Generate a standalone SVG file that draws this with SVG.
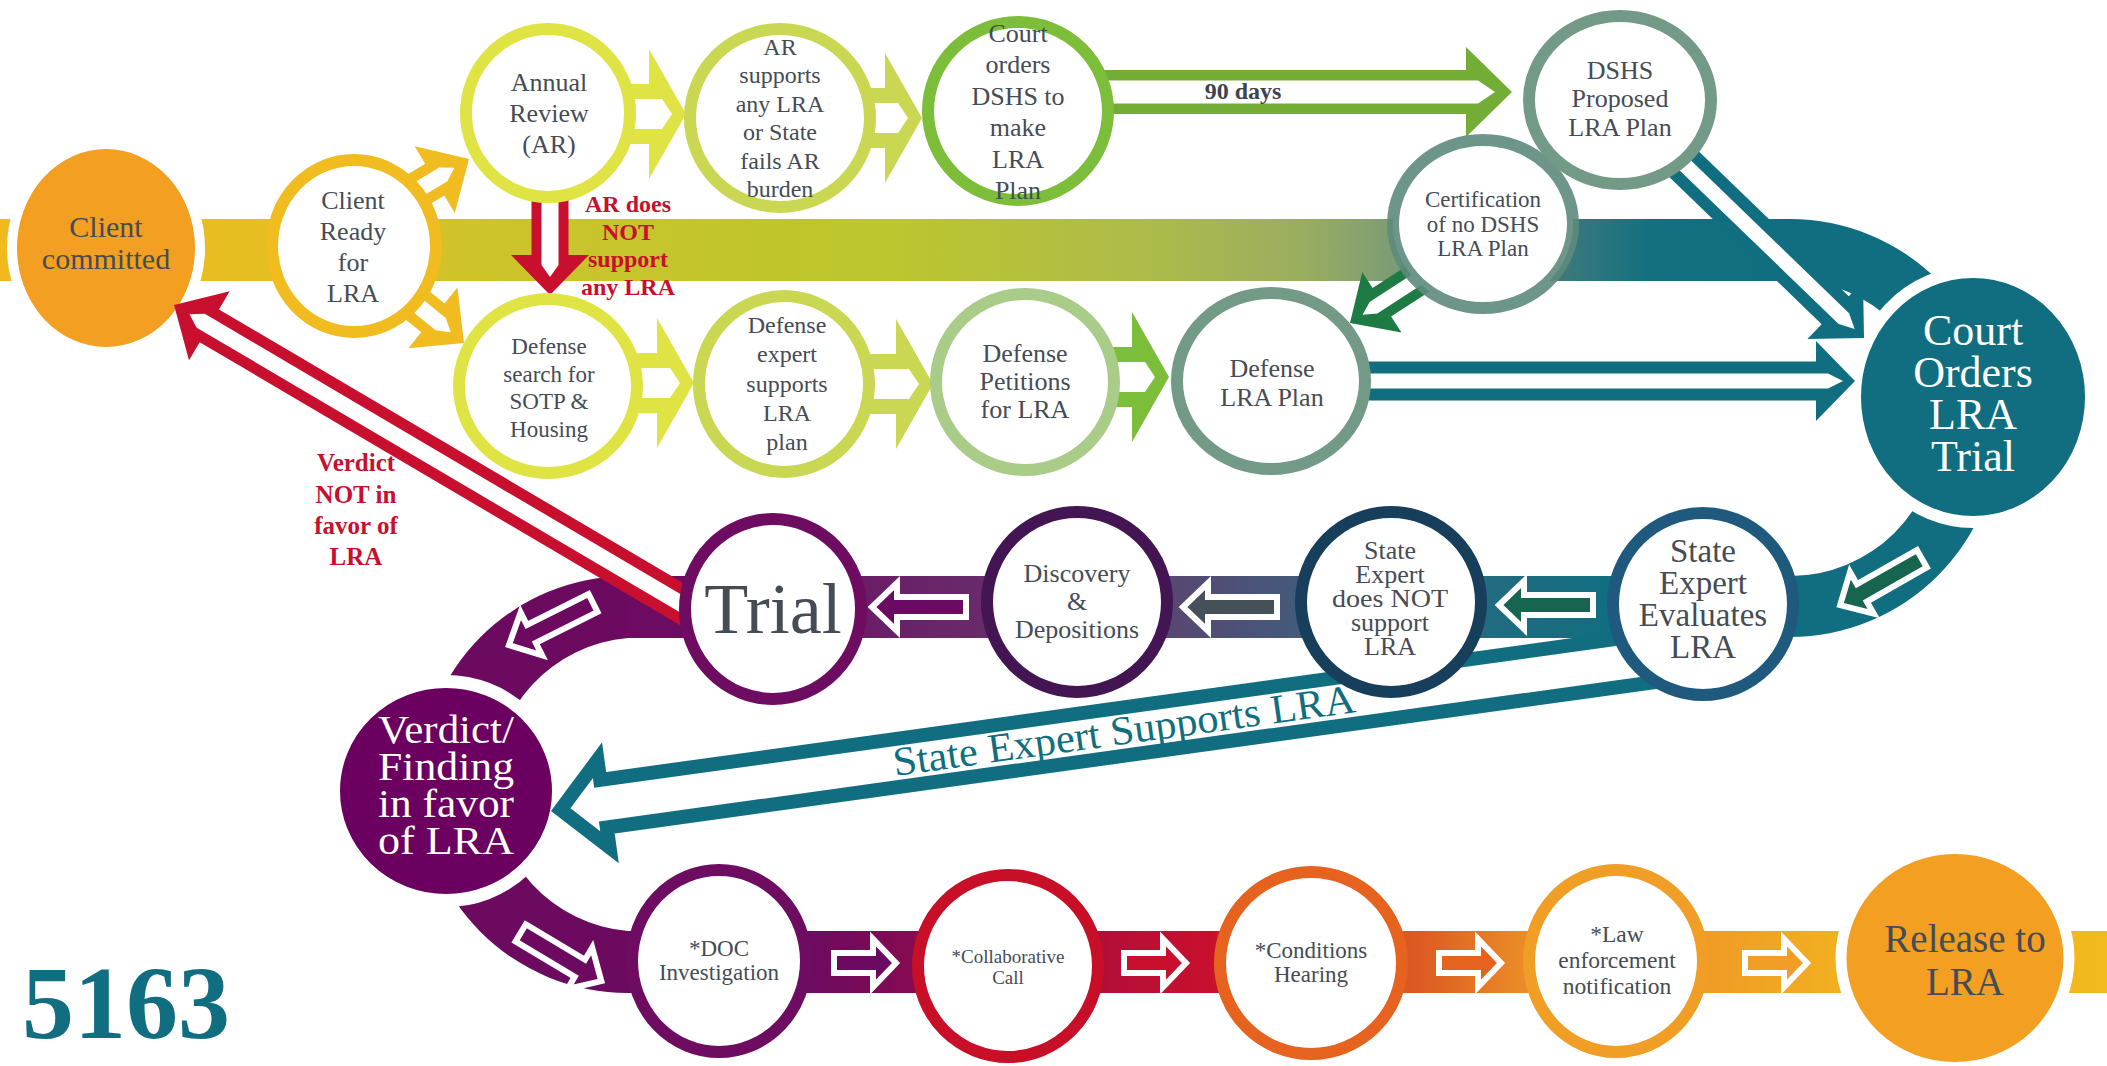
<svg xmlns="http://www.w3.org/2000/svg" xmlns:xlink="http://www.w3.org/1999/xlink" width="2107" height="1066" viewBox="0 0 2107 1066">
<style>
.n{font-family:'Liberation Serif','Times New Roman',serif;fill:#454C55;text-anchor:middle}
.w{font-family:'Liberation Serif','Times New Roman',serif;fill:#ffffff}
.r{font-family:'Liberation Serif','Times New Roman',serif;font-weight:bold;fill:#C8102E;text-anchor:middle}
.ring{fill:#ffffff;stroke-width:12}
.inner{fill:#ffffff}
</style>
<defs>
<linearGradient id="gTop" gradientUnits="userSpaceOnUse" x1="0" y1="0" x2="1790" y2="0">
<stop offset="0" stop-color="#F1B91D"/><stop offset="0.14" stop-color="#E6BE22"/><stop offset="0.28" stop-color="#CBC42A"/><stop offset="0.5" stop-color="#BCC62F"/><stop offset="0.64" stop-color="#AEBB4A"/><stop offset="0.73" stop-color="#99AD60"/><stop offset="0.79" stop-color="#76987A"/><stop offset="0.87" stop-color="#3F7A7C"/><stop offset="0.92" stop-color="#14707F"/><stop offset="1" stop-color="#106E80"/>
</linearGradient>
<linearGradient id="gMid" gradientUnits="userSpaceOnUse" x1="628" y1="0" x2="1790" y2="0">
<stop offset="0.06" stop-color="#6D0B62"/><stop offset="0.3" stop-color="#682A6A"/><stop offset="0.47" stop-color="#564873"/><stop offset="0.57" stop-color="#45597A"/><stop offset="0.73" stop-color="#246B80"/><stop offset="0.84" stop-color="#116E80"/><stop offset="1" stop-color="#106E80"/>
</linearGradient>
<linearGradient id="gBot" gradientUnits="userSpaceOnUse" x1="628" y1="0" x2="2107" y2="0">
<stop offset="0" stop-color="#6C0A60"/><stop offset="0.13" stop-color="#6E0A5F"/><stop offset="0.19" stop-color="#850B52"/><stop offset="0.326" stop-color="#B50E37"/><stop offset="0.394" stop-color="#C8102E"/><stop offset="0.44" stop-color="#D43A26"/><stop offset="0.536" stop-color="#DD5B22"/><stop offset="0.604" stop-color="#EA8B27"/><stop offset="0.74" stop-color="#F09E25"/><stop offset="0.82" stop-color="#F2B020"/><stop offset="1" stop-color="#F2BA1E"/>
</linearGradient>
<path id="sa" d="M47,0 L22,-24 L22,-10 L-47,-10 L-47,10 L22,10 L22,24 Z" stroke="#ffffff" stroke-width="6"/>
<path id="sb" d="M31,0 L8,-24 L8,-10 L-31,-10 L-31,10 L8,10 L8,24 Z" stroke="#ffffff" stroke-width="6"/>
</defs>

<g id="bands">
<rect x="0" y="219" width="1790" height="62" fill="url(#gTop)"/>
<path d="M1790,219 A209,209 0 0 1 1790,637 L1790,576 A148,148 0 0 0 1790,280 Z" fill="#106E80"/>
<rect x="628" y="576" width="1162" height="62" fill="url(#gMid)"/>
<path d="M628,576 A208,208 0 0 0 628,993 L628,931 A147,147 0 0 1 628,638 Z" fill="#6C0A60"/>
<rect x="628" y="931" width="1479" height="62" fill="url(#gBot)"/>
</g>

<g id="client-committed">
<ellipse cx="106" cy="248" rx="94" ry="104" fill="#F29F22" stroke="#ffffff" stroke-width="10"/>
<text class="n" font-size="30"><tspan x="106" y="237">Client</tspan><tspan x="106" y="269">committed</tspan></text>
</g>
<g id="court-orders-lra-trial">
<ellipse cx="1973" cy="397" rx="118" ry="125" fill="#106E80" stroke="#ffffff" stroke-width="12"/>
<text class="w" font-size="44" text-anchor="middle"><tspan x="1973" y="345">Court</tspan><tspan x="1973" y="387">Orders</tspan><tspan x="1973" y="429">LRA</tspan><tspan x="1973" y="471">Trial</tspan></text>
</g>
<g id="verdict-finding">
<ellipse cx="446" cy="791" rx="112.5" ry="109.5" fill="#6B0061" stroke="#ffffff" stroke-width="13"/>
<text class="w" font-size="40"><tspan x="378" y="743" textLength="136" lengthAdjust="spacingAndGlyphs">Verdict/</tspan><tspan x="378" y="780" textLength="136" lengthAdjust="spacingAndGlyphs">Finding</tspan><tspan x="378" y="817" textLength="136" lengthAdjust="spacingAndGlyphs">in favor</tspan><tspan x="378" y="854" textLength="136" lengthAdjust="spacingAndGlyphs">of LRA</tspan></text>
</g>
<g id="release-to-lra">
<ellipse cx="1955" cy="958" rx="114" ry="109.5" fill="#F29F22" stroke="#ffffff" stroke-width="11"/>
<text class="n" font-size="39"><tspan x="1965" y="952">Release to</tspan><tspan x="1965" y="995">LRA</tspan></text>
</g>

<g id="connectors">
<polygon points="560,84 649,84 649,49 686,114 649,179 649,144 560,144" fill="#DFE444"/>
<polygon class="inner" points="560,99 662,99 672,114 662,129 560,129"/>
<polygon points="800,88 885,88 885,53 922,118 885,183 885,148 800,148" fill="#C9D752"/>
<polygon class="inner" points="800,103 898,103 908,118 898,133 800,133"/>
<polygon points="560,353 657,353 657,318 694,383 657,448 657,413 560,413" fill="#DFE444"/>
<polygon class="inner" points="560,368 670,368 680,383 670,398 560,398"/>
<polygon points="800,354 896,354 896,319 933,384 896,449 896,414 800,414" fill="#C9D752"/>
<polygon class="inner" points="800,369 909,369 919,384 909,399 800,399"/>
<polygon points="1040,347 1132,347 1132,312 1169,377 1132,442 1132,407 1040,407" fill="#7CBD3A"/>
<polygon class="inner" points="1040,362 1145,362 1155,377 1145,392 1040,392"/>
<polygon points="1090,70 1466,70 1466,47 1512,92 1466,137 1466,114 1090,114" fill="#74AD35"/>
<polygon class="inner" points="1090,80.5 1478,80.5 1495,92 1478,103.5 1090,103.5"/>
<text x="1243" y="99" font-family="'Liberation Serif','Times New Roman',serif" font-weight="bold" font-size="24" fill="#3D444C" text-anchor="middle">90 days</text>
<polygon points="1290,361.5 1816,361.5 1816,341 1855,381 1816,421 1816,400.5 1290,400.5" fill="#106E80"/>
<polygon class="inner" points="1290,373.5 1828,373.5 1843,381 1828,388.5 1290,388.5"/>
<g transform="translate(469,159) rotate(-31)" fill="#F0BC1F">
<polygon points="0,0 -40,-39 -40,-18.5 -100,-18.5 -100,18.5 -40,18.5 -40,39"/>
<polygon class="inner" points="-100,-8 -30,-8 -17,0 -30,8 -100,8"/>
</g>
<g transform="translate(464,343) rotate(39)" fill="#F0BC1F">
<polygon points="0,0 -40,-39 -40,-18.5 -100,-18.5 -100,18.5 -40,18.5 -40,39"/>
<polygon class="inner" points="-100,-8 -30,-8 -17,0 -30,8 -100,8"/>
</g>
<g transform="translate(550,295) rotate(90)" fill="#C8102E">
<polygon points="0,0 -40,-39 -40,-18.5 -145,-18.5 -145,18.5 -40,18.5 -40,39"/>
<polygon class="inner" points="-145,-8.5 -30,-8.5 -18,0 -30,8.5 -145,8.5"/>
</g>
<text class="r" font-size="24"><tspan x="628" y="212">AR does</tspan><tspan x="628" y="240">NOT</tspan><tspan x="628" y="267">support</tspan><tspan x="628" y="295">any LRA</tspan></text>
<g transform="translate(174,305) rotate(210.5)" fill="#C8102E">
<polygon points="0,0 -41,-40 -41,-19 -610,-19 -610,19 -41,19 -41,40"/>
<polygon class="inner" points="-610,-8 -31,-8 -18,0 -31,8 -610,8"/>
</g>
<text class="r" font-size="25"><tspan x="356" y="471">Verdict</tspan><tspan x="356" y="503">NOT in</tspan><tspan x="356" y="534">favor of</tspan><tspan x="356" y="565">LRA</tspan></text>
<g transform="translate(1864,338) rotate(44)" fill="#106E80">
<polygon points="0,0 -40,-40 -40,-19.5 -330,-19.5 -330,19.5 -40,19.5 -40,40"/>
<polygon class="inner" points="-330,-7.5 -28,-7.5 -13,0 -28,7.5 -330,7.5"/>
</g>
<g transform="translate(1350,323) rotate(147)" fill="#1E7B44">
<polygon points="0,0 -38,-36 -38,-17 -160,-17 -160,17 -38,17 -38,36"/>
<polygon class="inner" points="-160,-7 -28,-7 -15,0 -28,7 -160,7"/>
</g>
<polygon transform="translate(551,811) rotate(172.1)" points="-9.8,0 -53,-43.9 -53,-24 -1110,-24 -1110,24 -53,24 -53,43.9" fill="#ffffff" stroke="#106E80" stroke-width="14" stroke-linejoin="miter"/>
<text transform="translate(895,776) rotate(-7.9)" x="0" y="0" font-family="'Liberation Serif','Times New Roman',serif" font-size="41" fill="#106E80" textLength="466" lengthAdjust="spacingAndGlyphs">State Expert Supports LRA</text>
<use xlink:href="#sa" fill="#17654F" transform="translate(1881,582) rotate(150.4)"/>
<use xlink:href="#sa" fill="#17654F" transform="translate(1546,605) rotate(180)"/>
<use xlink:href="#sa" fill="#465058" transform="translate(1230,607) rotate(180)"/>
<use xlink:href="#sa" fill="#6B0A62" transform="translate(919,607) rotate(180)"/>
<use xlink:href="#sa" fill="#6C0A60" transform="translate(551,624) rotate(153.4)"/>
<use xlink:href="#sa" fill="#6C0A60" transform="translate(561,957) rotate(30.9)"/>
<use xlink:href="#sb" fill="#6C0A62" transform="translate(865,963)"/>
<use xlink:href="#sb" fill="#C8102E" transform="translate(1155,963)"/>
<use xlink:href="#sb" fill="#E5621F" transform="translate(1470,963)"/>
<use xlink:href="#sb" fill="#F09E25" transform="translate(1776,963)"/>
</g>

<g id="client-ready">
<ellipse class="ring" cx="354" cy="246" rx="82" ry="86" stroke="#F0BC1F"/>
<text class="n" font-size="26"><tspan x="353" y="209">Client</tspan><tspan x="353" y="240">Ready</tspan><tspan x="353" y="271">for</tspan><tspan x="353" y="302">LRA</tspan></text>
</g>
<g id="annual-review">
<ellipse class="ring" cx="548" cy="113" rx="82" ry="84" stroke="#DFE444"/>
<text class="n" font-size="26"><tspan x="549" y="91">Annual</tspan><tspan x="549" y="122">Review</tspan><tspan x="549" y="153">(AR)</tspan></text>
</g>
<g id="ar-supports">
<ellipse class="ring" cx="780" cy="118" rx="90" ry="89" stroke="#C9D752"/>
<text class="n" font-size="24"><tspan x="780" y="55">AR</tspan><tspan x="780" y="83">supports</tspan><tspan x="780" y="112">any LRA</tspan><tspan x="780" y="140">or State</tspan><tspan x="780" y="169">fails AR</tspan><tspan x="780" y="197">burden</tspan></text>
</g>
<g id="court-orders-dshs">
<ellipse class="ring" cx="1018" cy="111" rx="90" ry="89" stroke="#7CBD3A"/>
<text class="n" font-size="26"><tspan x="1018" y="42">Court</tspan><tspan x="1018" y="73">orders</tspan><tspan x="1018" y="105">DSHS to</tspan><tspan x="1018" y="136">make</tspan><tspan x="1018" y="168">LRA</tspan><tspan x="1018" y="199">Plan</tspan></text>
</g>
<g id="certification">
<ellipse class="ring" cx="1483" cy="224" rx="90" ry="84" stroke="#5E8A7C" stroke-opacity="0.9"/>
<text class="n" font-size="23"><tspan x="1483" y="207">Certification</tspan><tspan x="1483" y="232">of no DSHS</tspan><tspan x="1483" y="256">LRA Plan</tspan></text>
</g>
<g id="dshs-proposed">
<ellipse class="ring" cx="1620" cy="100" rx="91" ry="84" stroke="#729A86"/>
<text class="n" font-size="26"><tspan x="1620" y="79">DSHS</tspan><tspan x="1620" y="107">Proposed</tspan><tspan x="1620" y="136">LRA Plan</tspan></text>
</g>
<g id="defense-search">
<ellipse class="ring" cx="548" cy="386" rx="89" ry="87" stroke="#DFE444"/>
<text class="n" font-size="23"><tspan x="549" y="354">Defense</tspan><tspan x="549" y="382">search for</tspan><tspan x="549" y="409">SOTP &amp;</tspan><tspan x="549" y="437">Housing</tspan></text>
</g>
<g id="defense-expert">
<ellipse class="ring" cx="784" cy="384" rx="85" ry="88" stroke="#C9D752"/>
<text class="n" font-size="24"><tspan x="787" y="333">Defense</tspan><tspan x="787" y="362">expert</tspan><tspan x="787" y="392">supports</tspan><tspan x="787" y="421">LRA</tspan><tspan x="787" y="450">plan</tspan></text>
</g>
<g id="defense-petitions">
<ellipse class="ring" cx="1025" cy="382" rx="89" ry="88" stroke="#A9CD89"/>
<text class="n" font-size="26"><tspan x="1025" y="362">Defense</tspan><tspan x="1025" y="390">Petitions</tspan><tspan x="1025" y="418">for LRA</tspan></text>
</g>
<g id="defense-lra-plan">
<ellipse class="ring" cx="1271" cy="381" rx="94" ry="88" stroke="#729A86"/>
<text class="n" font-size="26"><tspan x="1272" y="377">Defense</tspan><tspan x="1272" y="406">LRA Plan</tspan></text>
</g>
<g id="state-expert-evaluates">
<ellipse class="ring" cx="1703" cy="604" rx="90" ry="91" stroke="#1F5A7E"/>
<text class="n" font-size="33"><tspan x="1703" y="562">State</tspan><tspan x="1703" y="594">Expert</tspan><tspan x="1703" y="626">Evaluates</tspan><tspan x="1703" y="658">LRA</tspan></text>
</g>
<g id="state-expert-not">
<ellipse class="ring" cx="1391" cy="602" rx="90" ry="90" stroke="#173F5C"/>
<text class="n" font-size="26"><tspan x="1390" y="559">State</tspan><tspan x="1390" y="583">Expert</tspan><tspan x="1390" y="607" textLength="116" lengthAdjust="spacingAndGlyphs">does NOT</tspan><tspan x="1390" y="631">support</tspan><tspan x="1390" y="655">LRA</tspan></text>
</g>
<g id="discovery">
<ellipse class="ring" cx="1077" cy="602" rx="90" ry="90" stroke="#431552"/>
<text class="n" font-size="26"><tspan x="1077" y="582">Discovery</tspan><tspan x="1077" y="610">&amp;</tspan><tspan x="1077" y="638">Depositions</tspan></text>
</g>
<g id="trial">
<ellipse class="ring" cx="773" cy="609" rx="88" ry="90" stroke="#6E0C62"/>
<text class="n" font-size="72" x="773" y="633">Trial</text>
</g>
<g id="doc-investigation">
<ellipse class="ring" cx="719" cy="961" rx="87" ry="91" stroke="#6E0C62"/>
<text class="n" font-size="23"><tspan x="719" y="956">*DOC</tspan><tspan x="719" y="980">Investigation</tspan></text>
</g>
<g id="collaborative-call">
<ellipse class="ring" cx="1008" cy="966" rx="90" ry="91" stroke="#C80F28"/>
<text class="n" font-size="19"><tspan x="1008" y="963">*Collaborative</tspan><tspan x="1008" y="984">Call</tspan></text>
</g>
<g id="conditions-hearing">
<ellipse class="ring" cx="1311" cy="963" rx="91" ry="91" stroke="#E5621F"/>
<text class="n" font-size="23"><tspan x="1311" y="958">*Conditions</tspan><tspan x="1311" y="982">Hearing</tspan></text>
</g>
<g id="law-enforcement">
<ellipse class="ring" cx="1616" cy="961" rx="87" ry="91" stroke="#F09E25"/>
<text class="n" font-size="23.5"><tspan x="1617" y="942">*Law</tspan><tspan x="1617" y="968">enforcement</tspan><tspan x="1617" y="994">notification</tspan></text>
</g>

<text x="22" y="1038" font-family="'Liberation Serif','Times New Roman',serif" font-weight="bold" font-size="104" fill="#106E80">5163</text>
</svg>
